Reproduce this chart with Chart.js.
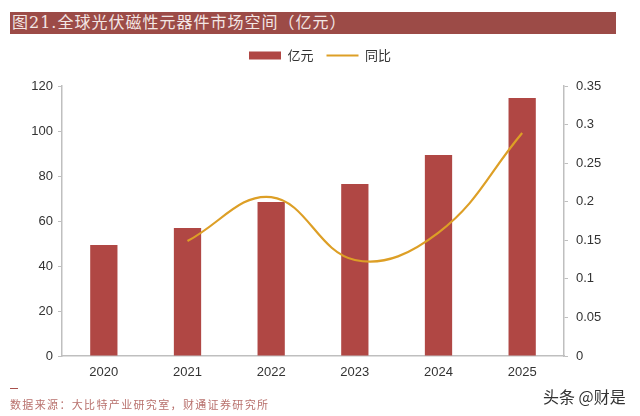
<!DOCTYPE html>
<html><head><meta charset="utf-8">
<style>
html,body{margin:0;padding:0;background:#fff;width:640px;height:416px;overflow:hidden}
#c{position:absolute;left:0;top:0;width:640px;height:416px}
.t{position:absolute;white-space:nowrap}
#band{position:absolute;left:10px;top:12px;width:606px;height:22px;background:#9c4b47}
#title{left:12px;top:12px;font:16px/22px "DejaVu Serif","Noto Sans CJK SC";color:#f3e6e4;letter-spacing:1px}
#dash{position:absolute;left:10px;top:388px;width:8px;height:1px;background:#a8504c}
#src{left:10px;top:397px;font:11px/14px "Noto Sans CJK SC";color:#b8706c;letter-spacing:1.35px}
#wm{left:543px;top:387px;font:16px/18px "Noto Sans CJK SC";color:#333}
</style></head><body>
<div id="band"></div>
<div class="t" id="title">图21.全球光伏磁性元器件市场空间（亿元）</div>
<canvas id="c" width="640" height="416"></canvas>
<div id="dash"></div>
<div class="t" id="src">数据来源：大比特产业研究室，财通证券研究所</div>
<div class="t" id="wm">头条 @财是</div>
<script src="https://cdn.jsdelivr.net/npm/chart.js@4/dist/chart.umd.js"></script>
<script>
const categories=['2020','2021','2022','2023','2024','2025'];
const marketSize=[49.3,56.9,68.4,76.4,89.3,114.7];
const yoyGrowth=[null,0.149,0.206,0.1245,0.16,0.289];
const leftTicks=[0,20,40,60,80,100,120];
const rightTicks=[0,0.05,0.1,0.15,0.2,0.25,0.3,0.35];
const tickFont={family:'"Liberation Sans"',size:13};
const axisGrey='#bfbfbf';
const legendGap={id:'legendGap',beforeInit(chart){const f=chart.legend.fit;chart.legend.fit=function(){f.call(this);this.height+=14;};}};
new Chart(document.getElementById('c'),{
  plugins:[legendGap],
  data:{labels:categories,datasets:[
    {type:'line',label:'同比',data:yoyGrowth,yAxisID:'y2',borderColor:'#dd9f26',backgroundColor:'#dd9f26',borderWidth:2.2,pointRadius:0,tension:0.4,pointStyle:'line',order:1},
    {type:'bar',label:'亿元',data:marketSize,yAxisID:'y',backgroundColor:'#b04744',barPercentage:0.326,categoryPercentage:1,pointStyle:'rect',order:2}
  ]},
  options:{responsive:false,animation:false,devicePixelRatio:1,
    layout:{padding:{top:36,left:0,right:0,bottom:0}},
    plugins:{
      tooltip:{enabled:false},
      legend:{position:'top',reverse:true,labels:{usePointStyle:true,pointStyleWidth:32,boxHeight:8,font:{family:'"Noto Sans CJK SC"',size:13},color:'#333',padding:13}}
    },
    scales:{
      x:{grid:{display:false},border:{color:axisGrey,width:1.5},ticks:{font:tickFont,color:'#333',padding:1,maxRotation:0},
         afterFit(s){s.height=60}},
      y:{position:'left',min:0,max:120,afterBuildTicks(s){s.ticks=leftTicks.map(v=>({value:v}))},
         grid:{drawOnChartArea:false,color:axisGrey,tickLength:4},border:{color:axisGrey,width:1.5},
         ticks:{font:tickFont,color:'#333',padding:5},afterFit(s){s.width=62}},
      y2:{position:'right',min:0,max:0.35,afterBuildTicks(s){s.ticks=rightTicks.map(v=>({value:v}))},
         grid:{drawOnChartArea:false,color:axisGrey,tickLength:4},border:{color:axisGrey,width:1.5},
         ticks:{font:tickFont,color:'#333',padding:8,callback:v=>String(v)},afterFit(s){s.width=76}}
    }
  }
});
</script></body></html>
